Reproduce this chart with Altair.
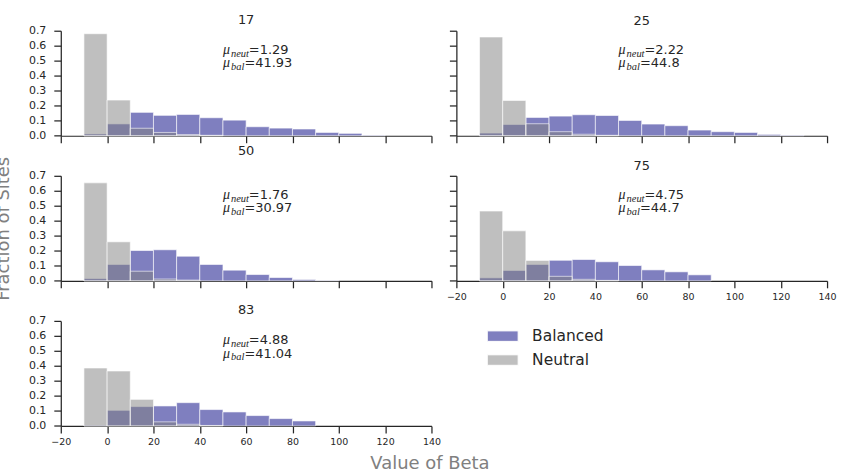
import altair as alt
import pandas as pd

# ---------------- data ----------------
bin_edges = [-10, 0, 10, 20, 30, 40, 50, 60, 70, 80, 90, 100, 110, 120, 130, 140]
panels = ["17", "25", "50", "75", "83"]
series = ["Balanced", "Neutral"]

neutral_17 = [0.680, 0.238, 0.050, 0.022, 0.008, 0.003, 0, 0, 0, 0, 0, 0, 0, 0, 0]
balanced_17 = [0.012, 0.079, 0.156, 0.136, 0.142, 0.120, 0.104, 0.060, 0.051, 0.045, 0.022, 0.016, 0.004, 0, 0]

neutral_25 = [0.658, 0.235, 0.080, 0.027, 0.010, 0.003, 0, 0, 0, 0, 0, 0, 0, 0, 0]
balanced_25 = [0.018, 0.075, 0.122, 0.131, 0.140, 0.135, 0.102, 0.078, 0.067, 0.038, 0.027, 0.022, 0.009, 0.004, 0]

neutral_50 = [0.653, 0.260, 0.064, 0.012, 0.005, 0, 0, 0, 0, 0, 0, 0, 0, 0, 0]
balanced_50 = [0.015, 0.109, 0.202, 0.207, 0.164, 0.109, 0.071, 0.042, 0.022, 0.009, 0.003, 0, 0, 0, 0]

neutral_75 = [0.465, 0.333, 0.136, 0.030, 0.010, 0.003, 0, 0, 0, 0, 0, 0, 0, 0, 0]
balanced_75 = [0.020, 0.069, 0.109, 0.137, 0.142, 0.127, 0.102, 0.073, 0.060, 0.040, 0, 0, 0, 0, 0]

neutral_83 = [0.386, 0.366, 0.177, 0.027, 0.011, 0.003, 0, 0, 0, 0, 0, 0, 0, 0, 0]
balanced_83 = [0.006, 0.104, 0.129, 0.133, 0.155, 0.109, 0.093, 0.069, 0.049, 0.033, 0, 0, 0, 0, 0]

mu_neut = ["1.29", "2.22", "1.76", "4.75", "4.88"]
mu_bal = ["41.93", "44.8", "30.97", "44.7", "41.04"]

x_ticks = [-20, 0, 20, 40, 60, 80, 100, 120, 140]
y_ticks = [0.0, 0.1, 0.2, 0.3, 0.4, 0.5, 0.6, 0.7]

neutral_data = {"17": neutral_17, "25": neutral_25, "50": neutral_50, "75": neutral_75, "83": neutral_83}
balanced_data = {"17": balanced_17, "25": balanced_25, "50": balanced_50, "75": balanced_75, "83": balanced_83}

# ---------------- style ----------------
TXT = "#262626"
FONT = "DejaVu Sans"
W, H = 372, 105.4
ANN_X = 50
ANN_Y_NEUT = 0.545
ANN_Y_BAL = 0.456

color_scale = alt.Scale(domain=series, range=["#000080", "#808080"])
legend = alt.Legend(
    title=None, orient="none", legendX=435, legendY=298,
    symbolType="M-2,-0.68H2V0.68H-2Z", symbolSize=240,
    symbolOpacity=0.5, symbolStrokeColor="white", symbolStrokeWidth=1,
    labelFontSize=15.5, labelFont=FONT, labelColor=TXT, labelOffset=21,
    rowPadding=7, padding=0,
)


def make_panel(idx, show_xlabels, show_ylabels, ytitle=None, xtitle=None):
    name = panels[idx]
    rows = []
    for s, vals in (("Balanced", balanced_data[name]), ("Neutral", neutral_data[name])):
        for i, v in enumerate(vals):
            if v > 0:
                rows.append({"series": s, "lo": bin_edges[i], "hi": bin_edges[i + 1], "frac": v})
    df = pd.DataFrame(rows)

    xaxis_kw = dict(values=x_ticks, labels=show_xlabels, grid=False, tickSize=7,
                    labelFontSize=9.5, labelPadding=4, format="d", labelFlush=False)
    if xtitle:
        xaxis_kw.update(title=xtitle, titleFontSize=18, titleColor="#808080",
                        titleFontWeight="normal", titleFont=FONT, titleX=370,
                        titleAlign="center", titlePadding=8)
    else:
        xaxis_kw.update(title=None)
    yaxis_kw = dict(values=y_ticks, labels=show_ylabels, grid=False, tickSize=7,
                    labelFontSize=11, labelPadding=8, format=".1f", labelFlush=False)
    if ytitle:
        yaxis_kw.update(title=ytitle, titleFontSize=18, titleColor="#808080",
                        titleFontWeight="normal", titleFont=FONT, titlePadding=16)
    else:
        yaxis_kw.update(title=None)

    xs = alt.Scale(domain=[-20, 140], nice=False, zero=False)
    ys = alt.Scale(domain=[0, 0.7], nice=False)
    xaxis = alt.Axis(**xaxis_kw)
    yaxis = alt.Axis(**yaxis_kw)

    bars = alt.Chart(df).mark_bar(
        fillOpacity=0.5, stroke="white", strokeWidth=1, strokeOpacity=0.6
    ).encode(
        x=alt.X("lo:Q", scale=xs, axis=xaxis),
        x2="hi:Q",
        y=alt.Y("frac:Q", scale=ys, axis=yaxis),
        y2=alt.datum(0),
        color=alt.Color("series:N", scale=color_scale, legend=legend),
    )

    ann = pd.DataFrame({
        "lo": [ANN_X, ANN_X],
        "frac": [ANN_Y_NEUT, ANN_Y_BAL],
        "sym": ["μ", "μ"],
        "sub": ["neut", "bal"],
        "val": ["=" + mu_neut[idx], "=" + mu_bal[idx]],
        "kind": ["neut", "bal"],
    })
    base = alt.Chart(ann).encode(
        x=alt.X("lo:Q", scale=xs, axis=xaxis),
        y=alt.Y("frac:Q", scale=ys, axis=yaxis),
    )
    mu = base.mark_text(align="left", baseline="alphabetic", font="Liberation Serif",
                        fontStyle="italic", fontSize=14, color=TXT).encode(text="sym:N")
    sub = base.mark_text(align="left", baseline="alphabetic", font="Liberation Serif",
                         fontStyle="italic", fontSize=10.5, color=TXT, dx=8, dy=3).encode(text="sub:N")
    val_n = base.transform_filter(alt.datum.kind == "neut").mark_text(
        align="left", baseline="alphabetic", font=FONT, fontSize=13, color=TXT, dx=26
    ).encode(text="val:N")
    val_b = base.transform_filter(alt.datum.kind == "bal").mark_text(
        align="left", baseline="alphabetic", font=FONT, fontSize=13, color=TXT, dx=21.5
    ).encode(text="val:N")

    return alt.layer(bars, mu, sub, val_n, val_b).properties(
        width=W, height=H,
        title=alt.Title(name, fontSize=13, fontWeight="normal", color=TXT, font=FONT,
                        offset=-2 if show_ylabels else 2, anchor="middle"),
    )


p17 = make_panel(0, False, True)
p25 = make_panel(1, False, False)
p50 = make_panel(2, False, True, ytitle="Fraction of Sites")
p75 = make_panel(3, True, False)
p83 = make_panel(4, True, True, xtitle="Value of Beta")

chart = alt.concat(
    p17, p25, p50, p75, p83, columns=2,
    spacing=alt.RowColnumber(row=39.6, column=25),
    bounds="flush",
).properties(
    padding={"left": -6, "top": 13, "right": 5, "bottom": -5},
).configure_view(stroke=None).configure_axis(
    domainColor=TXT, tickColor=TXT, labelColor=TXT, domainWidth=1.25,
    tickWidth=1.25, labelFont=FONT,
)

chart.save("out.html", embed_options={"renderer": "svg", "actions": False})
